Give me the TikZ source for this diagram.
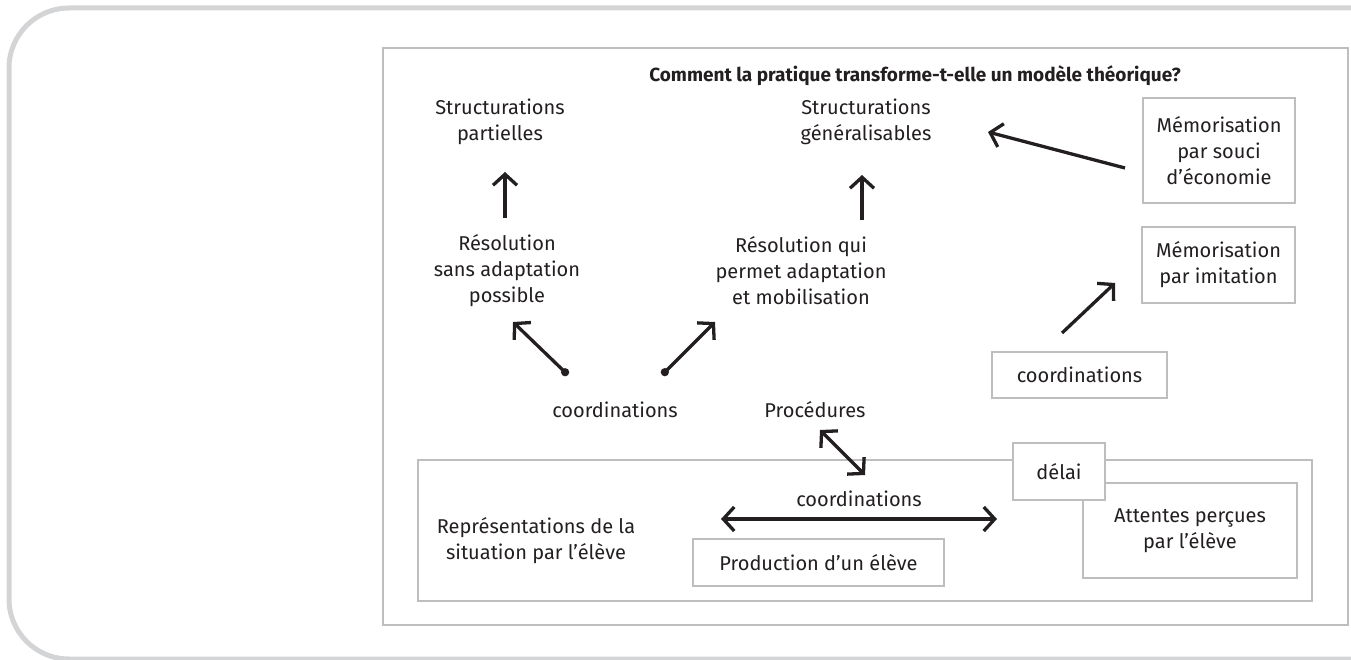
\documentclass[tikz,border=0pt]{standalone}
\usepackage{fontspec}
\setmainfont{Fira Sans}
\usetikzlibrary{arrows.meta}
\definecolor{framegray}{HTML}{D3D4D6}
\definecolor{boxgray}{HTML}{BCBEC0}
\definecolor{ink}{HTML}{231F20}

\begin{document}
\begin{tikzpicture}[x=1pt,y=-1pt,
  every node/.style={text=ink,font=\fontsize{20}{26}\selectfont,align=center},
  gbox/.style={draw=boxgray,line width=2.6pt,fill=white,inner sep=0pt},
  barb/.tip={Straight Barb[length=11pt,width=24pt]},
  arr/.style={draw=ink,line width=3.3pt,-barb},
  dotarr/.style={arr,{Circle[length=8pt]}-barb},
  dblarr/.style={arr,barb-barb}]
\useasboundingbox (0,0) rectangle (1351,660);
\draw[framegray,line width=5pt,rounded corners=60pt] (1356,8) -- (9,8) -- (9,659) -- (1356,659);
\draw[boxgray,line width=2.6pt] (383,48) rectangle (1348,625);
\node[font=\fontsize{19}{26}\selectfont\bfseries] (title) at (915,76) {Comment la pratique transforme-t-elle un modèle théorique?};
\node (strpart) at (500,122) {Structurations\\partielles};
\node (strgen) at (866,122) {Structurations\\généralisables};
\node (res1) at (507,271) {Résolution\\sans adaptation\\possible};
\node (res2) at (801,271) {Résolution qui\\permet adaptation\\et mobilisation};
\node[gbox,minimum width=152pt,minimum height=105pt] (mem1) at (1219,150.5) {Mémorisation\\par souci\\d’économie};
\node[gbox,minimum width=153pt,minimum height=76pt] (mem2) at (1218.5,265) {Mémorisation\\par imitation};
\node[gbox,minimum width=175pt,minimum height=46pt] (coordr) at (1079.5,375) {coordinations};
\node (coordl) at (615,410) {coordinations};
\node (proc) at (815,410) {Procédures};
\draw[boxgray,line width=2.6pt] (418,460) rectangle (1312,601);
\node[gbox,minimum width=214pt,minimum height=95pt] (att) at (1190,530.5) {Attentes perçues\\par l’élève};
\node[gbox,minimum width=92pt,minimum height=57pt] (delai) at (1059,471.5) {délai};
\node[gbox,minimum width=251pt,minimum height=47pt] (prod) at (818.5,562.5) {Production d’un élève};
\node (rep) at (536,541) {Représentations de la\\situation par l’élève};
\node (coordb) at (859,499) {coordinations};
\coordinate (up1s) at (505,218); \coordinate (up1e) at (505,172);
\coordinate (up2s) at (862,220); \coordinate (up2e) at (862,175);
\coordinate (dl) at (568,375); \coordinate (dle) at (513,322);
\coordinate (dr) at (662,375); \coordinate (dre) at (715,322);
\coordinate (imis) at (1062,333); \coordinate (imie) at (1115,283);
\coordinate (ecos) at (1125,168); \coordinate (ecoe) at (988,132);
\coordinate (pra) at (820,430); \coordinate (prb) at (865,475);
\coordinate (hza) at (721,519); \coordinate (hzb) at (997,519);
\draw[arr] (up1s) -- (up1e);
\draw[arr] (up2s) -- (up2e);
\draw[dotarr] (dl) -- (dle);
\draw[dotarr] (dr) -- (dre);
\draw[arr] (imis) -- (imie);
\draw[arr] (ecos) -- (ecoe);
\draw[dblarr] (pra) -- (prb);
\draw[dblarr] (hza) -- (hzb);
\end{tikzpicture}
\end{document}
